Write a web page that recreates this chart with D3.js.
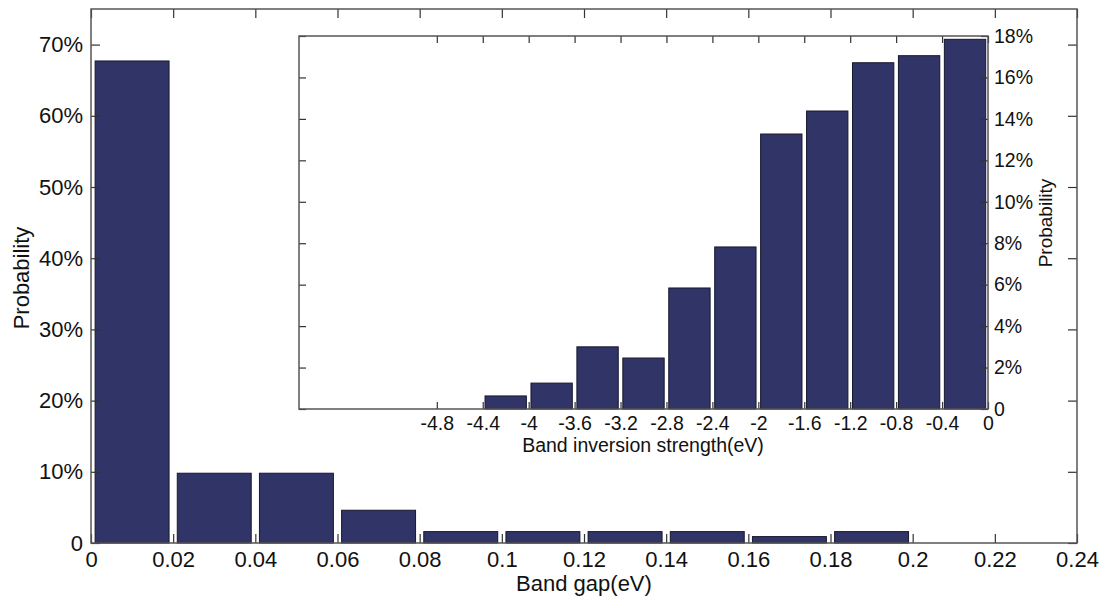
<!DOCTYPE html>
<html><head><meta charset="utf-8">
<script src="https://cdn.jsdelivr.net/npm/d3@7/dist/d3.min.js"></script>
<style>body{margin:0;background:#fff}</style>
</head><body>
<svg id="c" width="1104" height="601"></svg>
<script>
// ---- Main histogram: band gap ----
const gapBinStart = [0, 0.02, 0.04, 0.06, 0.08, 0.10, 0.12, 0.14, 0.16, 0.18];
const gapProb     = [0.677, 0.098, 0.098, 0.046, 0.016, 0.016, 0.016, 0.016, 0.009, 0.016];
const gapBinWidth = 0.02;
const gapTicks  = [0, 0.02, 0.04, 0.06, 0.08, 0.10, 0.12, 0.14, 0.16, 0.18, 0.20, 0.22, 0.24];
const probTicks = [0, 0.1, 0.2, 0.3, 0.4, 0.5, 0.6, 0.7];

// ---- Inset histogram: band inversion strength ----
const invBinStart = [-4.4, -4.0, -3.6, -3.2, -2.8, -2.4, -2.0, -1.6, -1.2, -0.8, -0.4];
const invProb     = [0.0063, 0.0125, 0.030, 0.0246, 0.0584, 0.0782, 0.1327, 0.1438, 0.1671, 0.1705, 0.1784];
const invBinWidth = 0.4;
const invTicks     = [-4.8, -4.4, -4.0, -3.6, -3.2, -2.8, -2.4, -2.0, -1.6, -1.2, -0.8, -0.4, 0];
const invProbTicks = [0, 0.02, 0.04, 0.06, 0.08, 0.10, 0.12, 0.14, 0.16, 0.18];

const FONT = "'Liberation Sans', Arial, Helvetica, sans-serif";
const BAR_FILL = "#313466", BAR_STROKE = "#16182e", AXIS = "#555";
const svg = d3.select("#c");

function pctFmt(d){ const v = Math.round(d*100); return v === 0 ? "0" : v + "%"; }
function numFmt(d){ return String(+d.toFixed(2)); }

function drawHist(cfg){
  const {x, y, starts, vals, bw, xt, yt, yRight, fsTick, padX, padY, tick} = cfg;
  const [x0, x1] = x.range(); const [y0, y1] = y.range();
  const g = svg.append("g");
  g.append("rect").attr("x", x0).attr("y", y1).attr("width", x1 - x0).attr("height", y0 - y1)
    .attr("fill", "#fff");
  // bars
  g.selectAll("rect.bar").data(starts.map((s,i)=>({s, v: vals[i]}))).join("rect")
    .attr("class","bar")
    .attr("x", d => x(d.s + bw*0.05))
    .attr("width", d => x(d.s + bw*0.95) - x(d.s + bw*0.05))
    .attr("y", d => y(d.v))
    .attr("height", d => y(0) - y(d.v))
    .attr("fill", BAR_FILL).attr("stroke", BAR_STROKE).attr("stroke-width", 1);
  // axes
  const styleAx = sel => {
    sel.select(".domain").remove();
    sel.selectAll(".tick line").attr("stroke", "#333").attr("stroke-width", 1.2);
    sel.selectAll("text").attr("fill", "#111");
    sel.attr("font-family", FONT).attr("font-size", fsTick);
  };
  g.append("g").attr("transform", `translate(0,${y0})`)
    .call(d3.axisBottom(x).tickValues(xt).tickFormat(numFmt).tickSize(-tick).tickPadding(padX)).call(styleAx);
  g.append("g").attr("transform", `translate(0,${y1})`)
    .call(d3.axisTop(x).tickValues(xt).tickFormat("").tickSize(-tick)).call(styleAx);
  g.append("g").attr("transform", `translate(${x0},0)`)
    .call(d3.axisLeft(y).tickValues(yt).tickFormat(yRight ? "" : pctFmt).tickSize(-tick).tickPadding(padY)).call(styleAx);
  g.append("g").attr("transform", `translate(${x1},0)`)
    .call(d3.axisRight(y).tickValues(yt).tickFormat(yRight ? pctFmt : "").tickSize(-tick).tickPadding(padY)).call(styleAx);
  // frame
  g.append("rect").attr("x", x0).attr("y", y1).attr("width", x1 - x0).attr("height", y0 - y1)
    .attr("fill", "none").attr("stroke", AXIS).attr("stroke-width", 1.5);
  return g;
}

// Main
const xMain = d3.scaleLinear().domain([0, 0.24]).range([91, 1077]);
const yMain = d3.scaleLinear().domain([0, 0.75]).range([543, 9]);
drawHist({x: xMain, y: yMain, starts: gapBinStart, vals: gapProb, bw: gapBinWidth,
  xt: gapTicks, yt: probTicks, yRight: false, fsTick: 22, padX: 8, padY: 8, tick: 9});
svg.append("text").attr("x", 584).attr("y", 591).attr("text-anchor", "middle")
  .attr("font-family", FONT).attr("font-size", 22).attr("fill", "#111").text("Band gap(eV)");
svg.append("text").attr("transform", "translate(29,278) rotate(-90)").attr("text-anchor", "middle")
  .attr("font-family", FONT).attr("font-size", 22).attr("fill", "#111").text("Probability");

// Inset
const xIn = d3.scaleLinear().domain([-6, 0]).range([299, 988]);
const yIn = d3.scaleLinear().domain([0, 0.18]).range([409, 36]);
drawHist({x: xIn, y: yIn, starts: invBinStart, vals: invProb, bw: invBinWidth,
  xt: invTicks, yt: invProbTicks, yRight: true, fsTick: 19.5, padX: 7, padY: 6, tick: 7});
svg.append("text").attr("x", 643).attr("y", 452).attr("text-anchor", "middle")
  .attr("font-family", FONT).attr("font-size", 19.5).attr("fill", "#111").text("Band inversion strength(eV)");
svg.append("text").attr("transform", "translate(1052,223) rotate(-90)").attr("text-anchor", "middle")
  .attr("font-family", FONT).attr("font-size", 19).attr("fill", "#111").text("Probability");
</script>
</body></html>
